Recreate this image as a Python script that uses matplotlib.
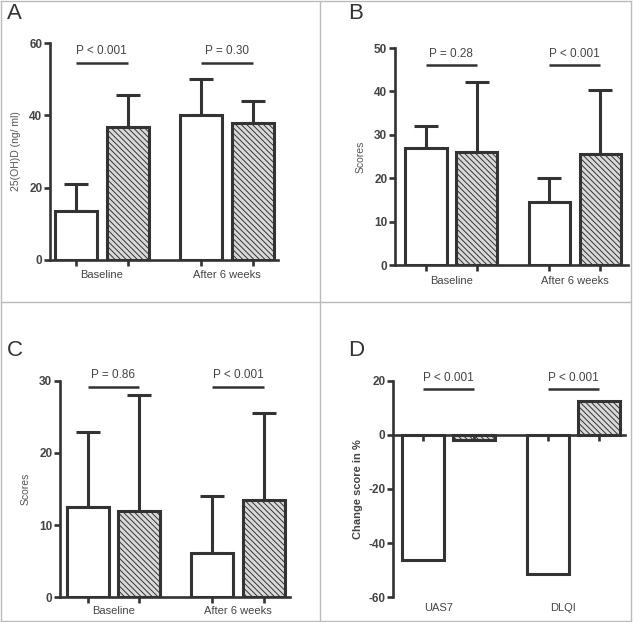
"""
Vitamin D study, four bar panels (A-D) with GraphPad-like styling
Output: out.png
"""
import matplotlib.pyplot as plt
from matplotlib.lines import Line2D

# ── Data ──────────────────────────────────────────────────────────────────────
groups = ["Baseline", "After 6 weeks"]

a_ctrl = [13.5, 40.0]
a_ctrl_err = [7.5, 10.0]
a_vitd = [36.8, 37.8]
a_vitd_err = [8.7, 6.2]
a_pvals = ["P < 0.001", "P = 0.30"]

b_ctrl = [27.0, 14.6]
b_ctrl_err = [5.0, 5.5]
b_vitd = [26.0, 25.6]
b_vitd_err = [16.2, 14.8]
b_pvals = ["P = 0.28", "P < 0.001"]

c_ctrl = [12.5, 6.1]
c_ctrl_err = [10.4, 7.9]
c_vitd = [12.0, 13.5]
c_vitd_err = [16.0, 12.0]
c_pvals = ["P = 0.86", "P < 0.001"]

d_groups = ["UAS7", "DLQI"]
d_ctrl = [-46.3, -51.6]
d_vitd = [-1.9, 12.5]
d_pvals = ["P < 0.001", "P < 0.001"]

# ── Style ─────────────────────────────────────────────────────────────────────
W, H = 635, 622
DARK = "#333333"
TXT = "#555555"
FRAME = "#bbbbbb"
HATCH_FC = "#d9d9d9"
plt.rcParams["font.family"] = ["Liberation Sans", "DejaVu Sans"]
plt.rcParams["hatch.linewidth"] = 0.7
plt.rcParams["hatch.color"] = DARK
plt.rcParams["axes.unicode_minus"] = False

fig = plt.figure(figsize=(W / 100, H / 100), dpi=100)
fig.patch.set_facecolor("white")

# panel frame lines (pixels)
for x0, y0, x1, y1 in [(1, 1, 631, 1), (1, 621, 631, 621), (1, 1, 1, 621),
                       (631, 1, 631, 621), (320, 1, 320, 621), (1, 302, 631, 302)]:
    fig.add_artist(Line2D([x0 / W, x1 / W], [1 - y0 / H, 1 - y1 / H],
                          color=FRAME, lw=1.0, transform=fig.transFigure))

OFF, BW = 0.206, 0.336
LW = 1.9


def make_ax(left, right, top, bottom):
    return fig.add_axes([left / W, 1 - bottom / H, (right - left) / W, (bottom - top) / H])


def style_ax(ax, ylim, yticks, xlim):
    ax.set_xlim(*xlim)
    ax.set_ylim(*ylim)
    ax.set_yticks(yticks)
    for s in ["top", "right"]:
        ax.spines[s].set_visible(False)
    for s in ["left", "bottom"]:
        ax.spines[s].set_linewidth(LW)
        ax.spines[s].set_color(DARK)
    ax.tick_params(axis="both", direction="out", length=4, width=LW, color=DARK)
    ax.tick_params(axis="y", labelsize=8.5, labelcolor="#444444", pad=1.5)
    for lab in ax.get_yticklabels():
        lab.set_fontweight("bold")
    ax.patch.set_alpha(0)


def bars(ax, ctrl, vitd, ctrl_err=None, vitd_err=None):
    xs = list(range(len(ctrl)))
    x1 = [x - OFF for x in xs]
    x2 = [x + OFF for x in xs]
    ax.bar(x1, ctrl, BW, color="white", edgecolor=DARK, linewidth=2.2, zorder=3)
    ax.bar(x2, vitd, BW, color=HATCH_FC, edgecolor=DARK, linewidth=2.2,
           hatch="\\\\\\\\\\\\", zorder=3)
    if ctrl_err is not None:
        for xx, v, e in [(x1, ctrl, ctrl_err), (x2, vitd, vitd_err)]:
            ax.errorbar(xx, v, yerr=[[0] * len(e), e], fmt="none", ecolor=DARK,
                        elinewidth=2.2, capsize=8.5, capthick=2.2, zorder=2)
    ax.set_xticks(x1 + x2)
    return xs


def sig(ax, xs, h, labels):
    for x, lab in zip(xs, labels):
        ax.plot([x - OFF, x + OFF], [h, h], color=DARK, lw=1.8, clip_on=False,
                solid_capstyle="butt")
        ax.annotate(lab, xy=(x, h), xytext=(0, 4), textcoords="offset points",
                    ha="center", va="bottom", fontsize=8.5, color="#444444",
                    annotation_clip=False)


def cat_labels(ax, xs, labels, y=-0.065):
    for x, lab in zip(xs, labels):
        ax.text(x, y, lab, transform=ax.get_xaxis_transform(), ha="center",
                va="top", fontsize=8, color="#444444")


def panel_letter(x, y, letter):
    fig.text(x / W, 1 - y / H, letter, fontsize=16, color="#333333",
             ha="left", va="top")


# ── Panel A ───────────────────────────────────────────────────────────────────
ax = make_ax(50, 278, 43, 260)
style_ax(ax, (0, 60), [0, 20, 40, 60], (-0.414, 1.41))
xs = bars(ax, a_ctrl, a_vitd, a_ctrl_err, a_vitd_err)
ax.set_xticklabels([])
cat_labels(ax, xs, groups, y=-0.045)
sig(ax, xs, 54.5, a_pvals)
ax.set_ylabel("25(OH)D (ng/ ml)", fontsize=7.5, color=TXT, labelpad=6)
panel_letter(7, 3, "A")

# ── Panel B ───────────────────────────────────────────────────────────────────
ax = make_ax(395, 628, 48, 265)
style_ax(ax, (0, 50), [0, 10, 20, 30, 40, 50], (-0.455, 1.43))
xs = bars(ax, b_ctrl, b_vitd, b_ctrl_err, b_vitd_err)
ax.set_xticklabels([])
cat_labels(ax, xs, groups, y=-0.05)
sig(ax, xs, 46.0, b_pvals)
ax.set_ylabel("Scores", fontsize=7.5, color=TXT, labelpad=6)
panel_letter(348, 3, "B")

# ── Panel C ───────────────────────────────────────────────────────────────────
ax = make_ax(60, 290, 381, 597)
style_ax(ax, (0, 30), [0, 10, 20, 30], (-0.427, 1.417))
xs = bars(ax, c_ctrl, c_vitd, c_ctrl_err, c_vitd_err)
ax.set_xticklabels([])
cat_labels(ax, xs, groups, y=-0.04)
sig(ax, xs, 29.2, c_pvals)
ax.set_ylabel("Scores", fontsize=7.5, color=TXT, labelpad=6)
panel_letter(7, 340, "C")

# ── Panel D ───────────────────────────────────────────────────────────────────
ax = make_ax(393, 625, 381, 597)
style_ax(ax, (-60, 20), [-60, -40, -20, 0, 20], (-0.442, 1.414))
ax.spines["bottom"].set_position(("data", 0))
xs = bars(ax, d_ctrl, d_vitd)
ax.xaxis.set_zorder(5)
ax.spines["bottom"].set_zorder(5)
ax.set_xticklabels([])
cat_labels(ax, [x - 0.08 for x in xs], d_groups, y=-0.03)
sig(ax, xs, 17.0, d_pvals)
ax.set_ylabel("Change score in %", fontsize=8, color="#444444",
              fontweight="bold", labelpad=4)
panel_letter(348, 340, "D")

fig.savefig("out.png", dpi=100, facecolor="white")
